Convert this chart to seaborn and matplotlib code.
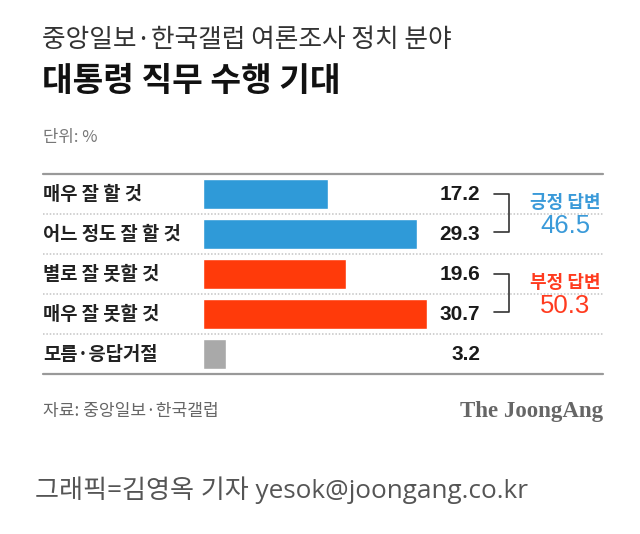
import matplotlib
matplotlib.use("Agg")
import matplotlib.pyplot as plt
import matplotlib.transforms as mtransforms
import seaborn as sns
import pandas as pd

categories = ["매우 잘 할 것", "어느 정도 잘 할 것", "별로 잘 못할 것", "매우 잘 못할 것", "모름·응답거절"]
values = [17.2, 29.3, 19.6, 30.7, 3.2]
value_labels = ["17.2", "29.3", "19.6", "30.7", "3.2"]
group_names = ["긍정 답변", "부정 답변"]
group_totals = ["46.5", "50.3"]
bar_colors = ["#2f9ad8", "#2f9ad8", "#ff3a0a", "#ff3a0a", "#a9a9a9"]
group_colors = ["#3a9ad9", "#ff3b1f"]

sns.set_theme(style="white")
FAM = ["Noto Sans CJK KR", "DejaVu Sans"]
NUM = ["Liberation Sans", "DejaVu Sans"]
plt.rcParams["font.family"] = FAM

W, H = 640, 534
fig = plt.figure(figsize=(W / 100, H / 100), dpi=100)
fig.patch.set_facecolor("white")

def fx(px):
    return px / W

def fy(py):
    return 1 - py / H

# Axes spanning x 43..603 px, y 174..374 px
L, R, T, B = 43, 603, 174, 374
ax = fig.add_axes([fx(L), fy(B), (R - L) / W, (B - T) / H])
df = pd.DataFrame({"cat": categories, "val": values})
sns.barplot(data=df, x="val", y="cat", hue="cat", palette=bar_colors,
            orient="h", width=0.77, legend=False, ax=ax, saturation=1)

ppu = 7.29  # pixels per unit
x0 = 203
xmin = -(x0 - L) / ppu
xmax = xmin + (R - L) / ppu
ax.set_xlim(xmin, xmax)
ax.set_ylim(4.5, -0.5)
ax.axis("off")

def afx(px):
    return (px - L) / (R - L)

trans = mtransforms.blended_transform_factory(ax.transAxes, ax.transData)

# lines
ax.plot([0, 1], [-0.5, -0.5], transform=trans, color="#999999", lw=1.6, clip_on=False)
ax.plot([0, 1], [4.5, 4.5], transform=trans, color="#999999", lw=1.6, clip_on=False)
for yy in [0.5, 1.5, 2.5, 3.5]:
    ax.plot([0, 1], [yy, yy], transform=trans, color="#c4c4c4", lw=1.1,
            ls=(0, (1, 1.2)), clip_on=False)

# labels and values
for i, (c, v) in enumerate(zip(categories, value_labels)):
    ax.text(0, i, c, transform=trans, ha="left", va="center", fontsize=13.5,
            fontweight="bold", color="#222222", family=FAM)
    ax.text(afx(480), i + 0.02, v, transform=trans, ha="right", va="center",
            fontsize=15, fontweight="bold", color="#1a1a1a", family=NUM)

# brackets
for g, (r0, r1) in enumerate([(0, 1), (2, 3)]):
    xa, xb = afx(494), afx(509)
    ax.plot([xa, xb, xb, xa], [r0, r0, r1 - 0.05, r1 - 0.05], transform=trans,
            color="#333333", lw=1.2, clip_on=False)
    ax.text(afx(565), r0 + 0.22, group_names[g], transform=trans, ha="center",
            va="center", fontsize=13, fontweight="bold", color=group_colors[g], family=FAM)
    ax.text(afx(565), r0 + 0.8, group_totals[g], transform=trans, ha="center",
            va="center", fontsize=18.5, color=group_colors[g], family=NUM)

# titles
fig.text(fx(42), fy(40), "중앙일보·한국갤럽 여론조사 정치 분야", ha="left", va="center",
         fontsize=18.5, color="#333333", family=FAM)
fig.text(fx(42), fy(82), "대통령 직무 수행 기대", ha="left", va="center",
         fontsize=24, fontweight="bold", color="#111111", family=FAM)
fig.text(fx(43), fy(137), "단위: %", ha="left", va="center",
         fontsize=12, color="#777777", family=FAM)

# footer
fig.text(fx(43), fy(411), "자료: 중앙일보·한국갤럽", ha="left", va="center",
         fontsize=12.3, color="#666666", family=FAM)
fig.text(fx(603), fy(412), "The JoongAng", ha="right", va="center",
         fontsize=16.5, fontweight="bold", color="#666666", family=["Liberation Serif", "DejaVu Serif"])
fig.text(fx(35), fy(490), "그래픽=김영옥 기자 yesok@joongang.co.kr", ha="left", va="center",
         fontsize=18.8, color="#555555", family=["Open Sans", "Noto Sans CJK KR", "DejaVu Sans"])

fig.savefig("out.png", dpi=100, facecolor="white")
